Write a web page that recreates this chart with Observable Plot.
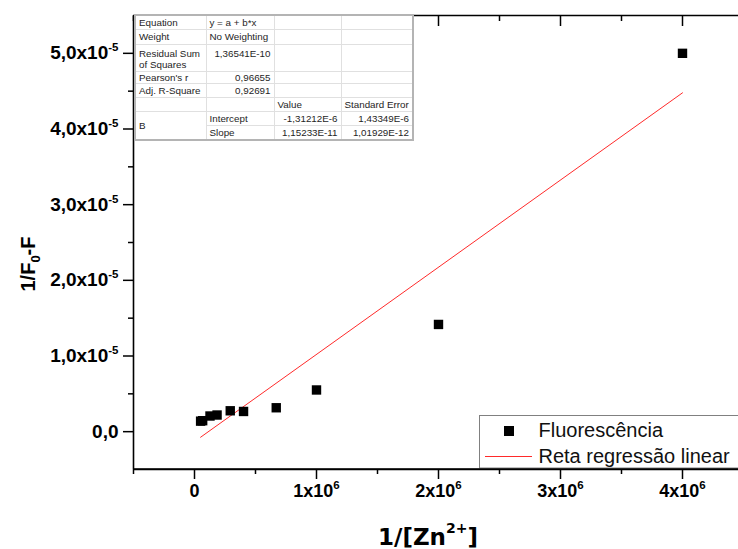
<!DOCTYPE html>
<html><head><meta charset="utf-8">
<script src="https://cdn.jsdelivr.net/npm/d3@7"></script>
<script src="https://cdn.jsdelivr.net/npm/@observablehq/plot@0.6"></script>
<style>
html,body{margin:0;padding:0;background:#fff;overflow:hidden;width:738px;height:549px;}
#wrap{position:relative;width:738px;height:549px;overflow:hidden;}
#wrap > svg{position:absolute;left:0;top:0;max-width:none !important;}
#fit{position:absolute;left:134px;top:14px;border-collapse:collapse;table-layout:fixed;background:#fff;
  font-family:"Liberation Sans",Arial,sans-serif;font-size:9.8px;color:#1e1e1e;border:2px solid #b4b4b4;}
#fit td{border:1px solid #e0e0e0;padding:0 3px;white-space:nowrap;overflow:hidden;line-height:11px;box-sizing:border-box;}
#fit td.r{text-align:right;}
#fit td.top{vertical-align:top;padding-top:3px;}
</style></head><body><div id="wrap"></div>
<script>
// ---- data ----
const invZn = [5.0e4, 6.7e4, 1.27e5, 1.85e5, 2.93e5, 4.02e5, 6.70e5, 1.0e6, 2.0e6, 4.0e6];
const invF  = [1.39e-6, 1.45e-6, 2.07e-6, 2.20e-6, 2.76e-6, 2.67e-6, 3.16e-6, 5.51e-6, 1.417e-5, 5.0e-5];
const fitIntercept = -1.31212e-6;
const fitSlope = 1.15233e-11;
const xDomain = [-0.5e6, 4.5e6];
const yDomain = [-0.5e-5, 5.5e-5];
const xMajor = [0, 1e6, 2e6, 3e6, 4e6];
const xMajorLabels = ["0", "1x10^6", "2x10^6", "3x10^6", "4x10^6"];
const xMinor = [-0.5e6, 0.5e6, 1.5e6, 2.5e6, 3.5e6];
const yMajor = [0, 1e-5, 2e-5, 3e-5, 4e-5, 5e-5];
const yMajorLabels = ["0,0", "1,0x10^-5", "2,0x10^-5", "3,0x10^-5", "4,0x10^-5", "5,0x10^-5"];
const yMinor = [0.5e-5, 1.5e-5, 2.5e-5, 3.5e-5, 4.5e-5];
const xTitle = ["1/[Zn", "2+", "]"];
const yTitle = ["1/F", "0", "-F"];
const seriesNames = ["Fluorescência", "Reta regressão linear"];
const tableRows = [
  ["Equation", "y = a + b*x", "", ""],
  ["Weight", "No Weighting", "", ""],
  ["Residual Sum\nof Squares", "1,36541E-10", "", ""],
  ["Pearson's r", "0,96655", "", ""],
  ["Adj. R-Square", "0,92691", "", ""],
  ["", "", "Value", "Standard Error"],
  ["B", "Intercept", "-1,31212E-6", "1,43349E-6"],
  ["", "Slope", "1,15233E-11", "1,01929E-12"]
];

// ---- chart ----
const points = invZn.map((x, i) => ({x, y: invF[i]}));
const fitLine = d3.extent(invZn).map(x => ({x, y: fitIntercept + fitSlope * x}));
const FONT = '"Liberation Sans", Arial, sans-serif';

const chart = Plot.plot({
  width: 745, height: 549,
  marginLeft: 133, marginRight: 2, marginTop: 15, marginBottom: 80,
  x: {domain: xDomain},
  y: {domain: yDomain},
  style: {fontFamily: FONT, background: "transparent", color: "#000", maxWidth: "none"},
  marks: [
    Plot.axisX(xMinor, {tickSize: 5, strokeWidth: 1.5, tickFormat: () => "", label: null}),
    Plot.axisX(xMajor, {tickSize: 10, strokeWidth: 1.5, tickPadding: 5, label: null,
      tickFormat: d => xMajorLabels[xMajor.indexOf(d)], fontSize: 18, fontWeight: "bold"}),
    Plot.axisX(xMinor, {anchor: "top", tickSize: 5, dy: 5, strokeWidth: 1.5, tickFormat: () => "", label: null}),
    Plot.axisX(xMajor, {anchor: "top", tickSize: 10, dy: 10, strokeWidth: 1.5, tickFormat: () => "", label: null}),
    Plot.axisY(yMinor, {tickSize: 5, strokeWidth: 1.5, tickFormat: () => "", label: null}),
    Plot.axisY(yMajor, {tickSize: 10, strokeWidth: 1.5, tickPadding: 5, label: null,
      tickFormat: d => yMajorLabels[yMajor.indexOf(d)], fontSize: 19, fontWeight: "bold"}),
    Plot.ruleX([xDomain[0]], {strokeWidth: 1.6}),
    Plot.ruleY([yDomain[0]], {strokeWidth: 1.6}),
    Plot.ruleY([yDomain[1]], {strokeWidth: 1.6}),
    Plot.line(fitLine, {x: "x", y: "y", stroke: "#ff2a2a", strokeWidth: 1}),
    Plot.dot(points, {x: "x", y: "y", symbol: "square", r: 5.3, fill: "#000"})
  ]
});
chart.style.maxWidth = "none";
document.getElementById("wrap").appendChild(chart);

const svg = d3.select(chart);
// superscripts in tick labels
svg.selectAll("text").each(function () {
  const t = this.textContent;
  if (t.includes("^")) {
    const [base, sup] = t.split("^");
    const s = d3.select(this);
    s.text(null);
    s.append("tspan").text(base);
    s.append("tspan").attr("dy", -8).attr("font-size", 11.5).text(sup);
  }
});

// axis titles
const xs = chart.scale("x"), ys = chart.scale("y");
const xc = (xs.range[0] + xs.range[1]) / 2 - 10;
const tx = svg.append("text").attr("x", xc).attr("y", 545).attr("text-anchor", "middle")
  .attr("font-family", '"DejaVu Sans", sans-serif').attr("font-size", 23).attr("font-weight", "bold");
tx.append("tspan").text(xTitle[0]);
tx.append("tspan").attr("dy", -12).attr("font-size", 14).text(xTitle[1]);
tx.append("tspan").attr("dy", 12).text(xTitle[2]);

const ty = svg.append("text").attr("transform", "translate(35,264) rotate(-90)").attr("text-anchor", "middle")
  .attr("font-family", FONT).attr("font-size", 20).attr("font-weight", "bold");
ty.append("tspan").text(yTitle[0]);
ty.append("tspan").attr("dy", 5).attr("font-size", 13).text(yTitle[1]);
ty.append("tspan").attr("dy", -5).text(yTitle[2]);

// legend
const lg = svg.append("g").attr("font-family", FONT).attr("font-size", 20).attr("text-anchor", "start");
lg.append("rect").attr("x", 479.5).attr("y", 415.5).attr("width", 300).attr("height", 52.5)
  .attr("fill", "#fff").attr("stroke", "#808080");
lg.append("rect").attr("x", 504).attr("y", 426).attr("width", 10).attr("height", 10).attr("fill", "#000");
lg.append("line").attr("x1", 485).attr("x2", 532).attr("y1", 456.5).attr("y2", 456.5)
  .attr("stroke", "#ff2a2a").attr("stroke-width", 1);
lg.append("text").attr("x", 538.5).attr("y", 437).attr("fill", "#111").text(seriesNames[0]);
lg.append("text").attr("x", 538.5).attr("y", 463).attr("fill", "#111").text(seriesNames[1]);
// keep bottom axis line on top of legend
svg.append("line").attr("x1", xs.range[0]).attr("x2", xs.range[1])
  .attr("y1", ys.apply(yDomain[0])).attr("y2", ys.apply(yDomain[0])).attr("stroke", "#000").attr("stroke-width", 1.6);

// fit table
const rowH = [14, 15, 27, 12, 14, 14, 14, 15];
const colW = [71, 68, 67, 72];
const table = document.createElement("table");
table.id = "fit";
const cg = document.createElement("colgroup");
colW.forEach(w => { const c = document.createElement("col"); c.style.width = w + "px"; cg.appendChild(c); });
table.appendChild(cg);
const isNum = s => /^-?\d/.test(s);
tableRows.forEach((row, ri) => {
  const tr = document.createElement("tr");
  tr.style.height = rowH[ri] + "px";
  row.forEach((cell, ci) => {
    if (ri === 7 && ci === 0) return;
    const td = document.createElement("td");
    if (ri === 6 && ci === 0) td.rowSpan = 2;
    if (isNum(cell) && !(ri === 0)) td.className = "r";
    if (ri === 2) td.className += " top";
    td.style.height = rowH[ri] + "px";
    cell.split("\n").forEach((line, li) => {
      if (li) td.appendChild(document.createElement("br"));
      td.appendChild(document.createTextNode(line));
    });
    tr.appendChild(td);
  });
  table.appendChild(tr);
});
document.getElementById("wrap").appendChild(table);
</script></body></html>
